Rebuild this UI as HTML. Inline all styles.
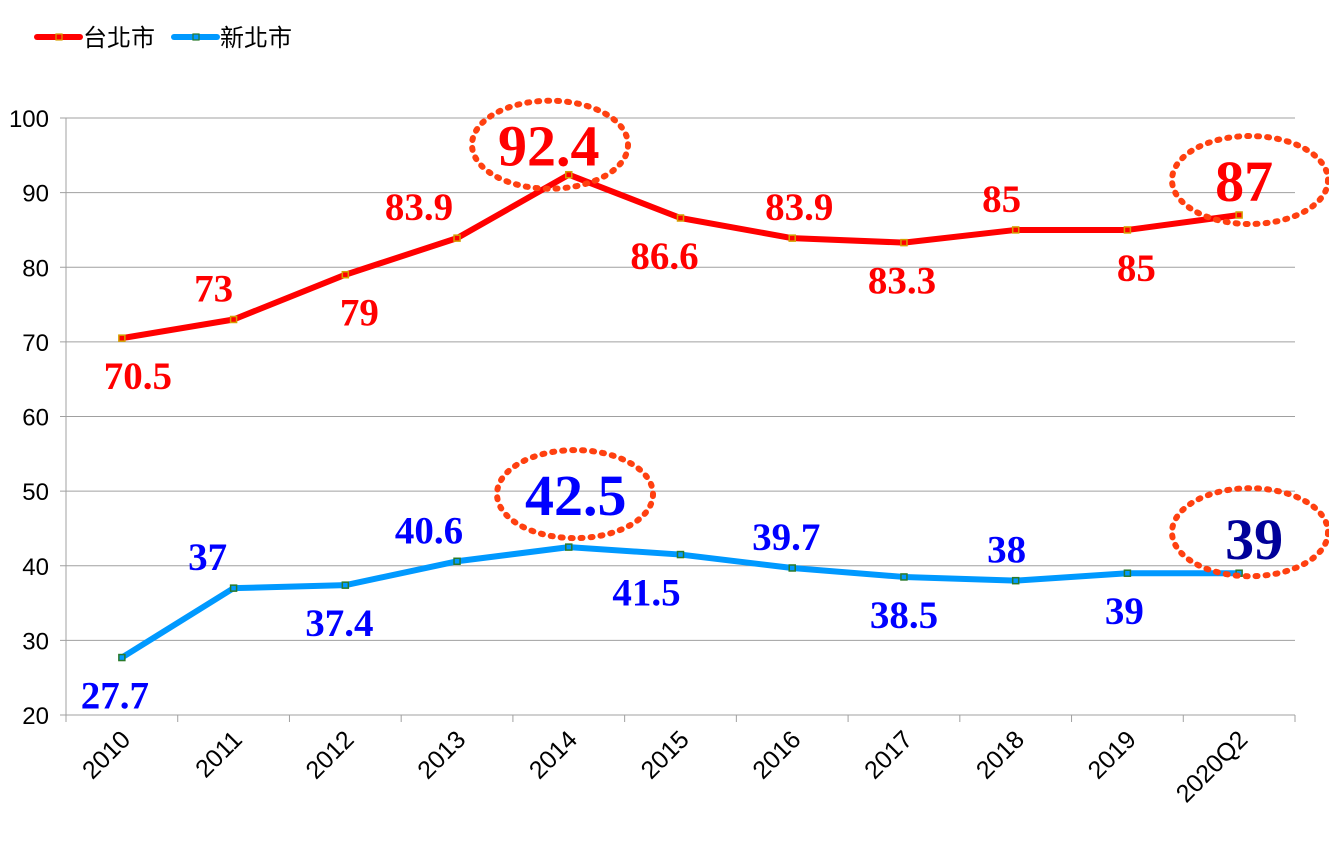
<!DOCTYPE html>
<html><head><meta charset="utf-8"><style>
body{margin:0;background:#fff;}
svg text{font-family:"Liberation Sans","Noto Sans CJK TC",sans-serif;}
.v{font-family:"Liberation Serif","Noto Serif CJK SC",serif !important;font-weight:bold;}
</style></head><body>
<svg id="c" width="1329" height="853" xmlns="http://www.w3.org/2000/svg"></svg>
<script>
const categories=["2010","2011","2012","2013","2014","2015","2016","2017","2018","2019","2020Q2"];
const taipei=[70.5,73,79,83.9,92.4,86.6,83.9,83.3,85,85,87];
const newTaipei=[27.7,37,37.4,40.6,42.5,41.5,39.7,38.5,38,39,39];
const taipeiSide=["below","above","below","above","above","below","above","below","above","below","above"];
const newTaipeiSide=["below","above","below","above","above","below","above","below","above","below","above"];
const yTicks=[20,30,40,50,60,70,80,90,100];
const highlightIdx=[4,10];
// label horizontal nudges (layout only)
const taipeiDx=[16,-20,14,-38,-20,-16,7,-2,-14,9,5];
const newTaipeiDx=[-7,-26,-6,-28,7,-34,-6,0,-9,-3,15];

const NS="http://www.w3.org/2000/svg";
const svg=document.getElementById('c');
const L=66,R=1295,T=118,B=715;
const bw=(R-L)/categories.length;
const x=i=>L+bw*(i+0.5);
const y=v=>B-(v-20)/80*(B-T);
function mk(t,a,p){const e=document.createElementNS(NS,t);for(const k in a)e.setAttribute(k,a[k]);(p||svg).appendChild(e);return e;}

yTicks.forEach(v=>{
  const g=mk('line',{x1:L-6,x2:R,y1:y(v),y2:y(v),stroke:'#a0a0a0','stroke-width':1});
  
  
  const t=mk('text',{x:L-17,y:y(v)+9,'text-anchor':'end','font-size':24,fill:'#000'});
  t.textContent=v;
  
  
});
mk('line',{x1:L,x2:L,y1:T,y2:B,stroke:'#a0a0a0'});
categories.forEach((c,i)=>{
  mk('line',{x1:L+bw*(i+1),x2:L+bw*(i+1),y1:B,y2:B+7,stroke:'#a0a0a0'});
  const t=mk('text',{x:x(i)+10,y:B+26,'text-anchor':'end','font-size':25,fill:'#000',transform:`rotate(-45 ${x(i)+10} ${B+26})`});
  t.textContent=c;
  
  
});
mk('line',{x1:L,x2:L,y1:B,y2:B+7,stroke:'#a0a0a0'});

function series(vals,sides,dxs,color,mcol,txtcol,bigcol,name){
  const p=mk('polyline',{points:vals.map((v,i)=>x(i)+','+y(v)).join(' '),fill:'none',stroke:color,'stroke-width':6,'stroke-linejoin':'round'});
  
  
  vals.forEach((v,i)=>{
    const m=mk('rect',{x:x(i)-3,y:y(v)-3,width:6,height:6,fill:color,stroke:mcol,'stroke-width':1.5});
    
    
    const big=highlightIdx.includes(i);
    let ty,fs=39;
    if(big){fs=58;ty=y(v)-(name==='taipei'?(i==4?9:14):(i==4?32:14));}
    else ty=sides[i]==='above'?y(v)-18:y(v)+51;
    const tx=x(i)+dxs[i];
    const t=mk('text',{x:tx,y:ty,'text-anchor':'middle','font-size':fs,fill:big&&i==10&&name!=='taipei'?bigcol:txtcol,class:'v'});
    t.textContent=v;
    
    
    if(big){
      const e=mk('ellipse',{cx:(i==4?(name==='taipei'?550:575):1250),cy:ty-21-(name!=='taipei'&&i==10?6:0),rx:78,ry:44,fill:'none',stroke:'#ff4010','stroke-width':6,'stroke-dasharray':'2 8','stroke-linecap':'round'});
      
      
    }
  });
}
series(taipei,taipeiSide,taipeiDx,'#ff0000','#d4a000','#ff0000','#ff0000','taipei');
series(newTaipei,newTaipeiSide,newTaipeiDx,'#0099ff','#2a7a2a','#0000ff','#000099','new-taipei');

function legend(x0,color,mcol,label,name){
  const g=mk('g',{});
  
  
  mk('line',{x1:x0,x2:x0+43,y1:37,y2:37,stroke:color,'stroke-width':6,'stroke-linecap':'round'},g);
  mk('rect',{x:x0+19,y:34,width:6,height:6,fill:color,stroke:mcol,'stroke-width':1.2},g);
  const t=mk('text',{x:x0+46,y:46,'font-size':24,fill:'#000'},g);t.textContent=label;
}
legend(37,'#ff0000','#d4a000','台北市','legend-taipei');
legend(174,'#0099ff','#2a7a2a','新北市','legend-new-taipei');
</script>
</body></html>
